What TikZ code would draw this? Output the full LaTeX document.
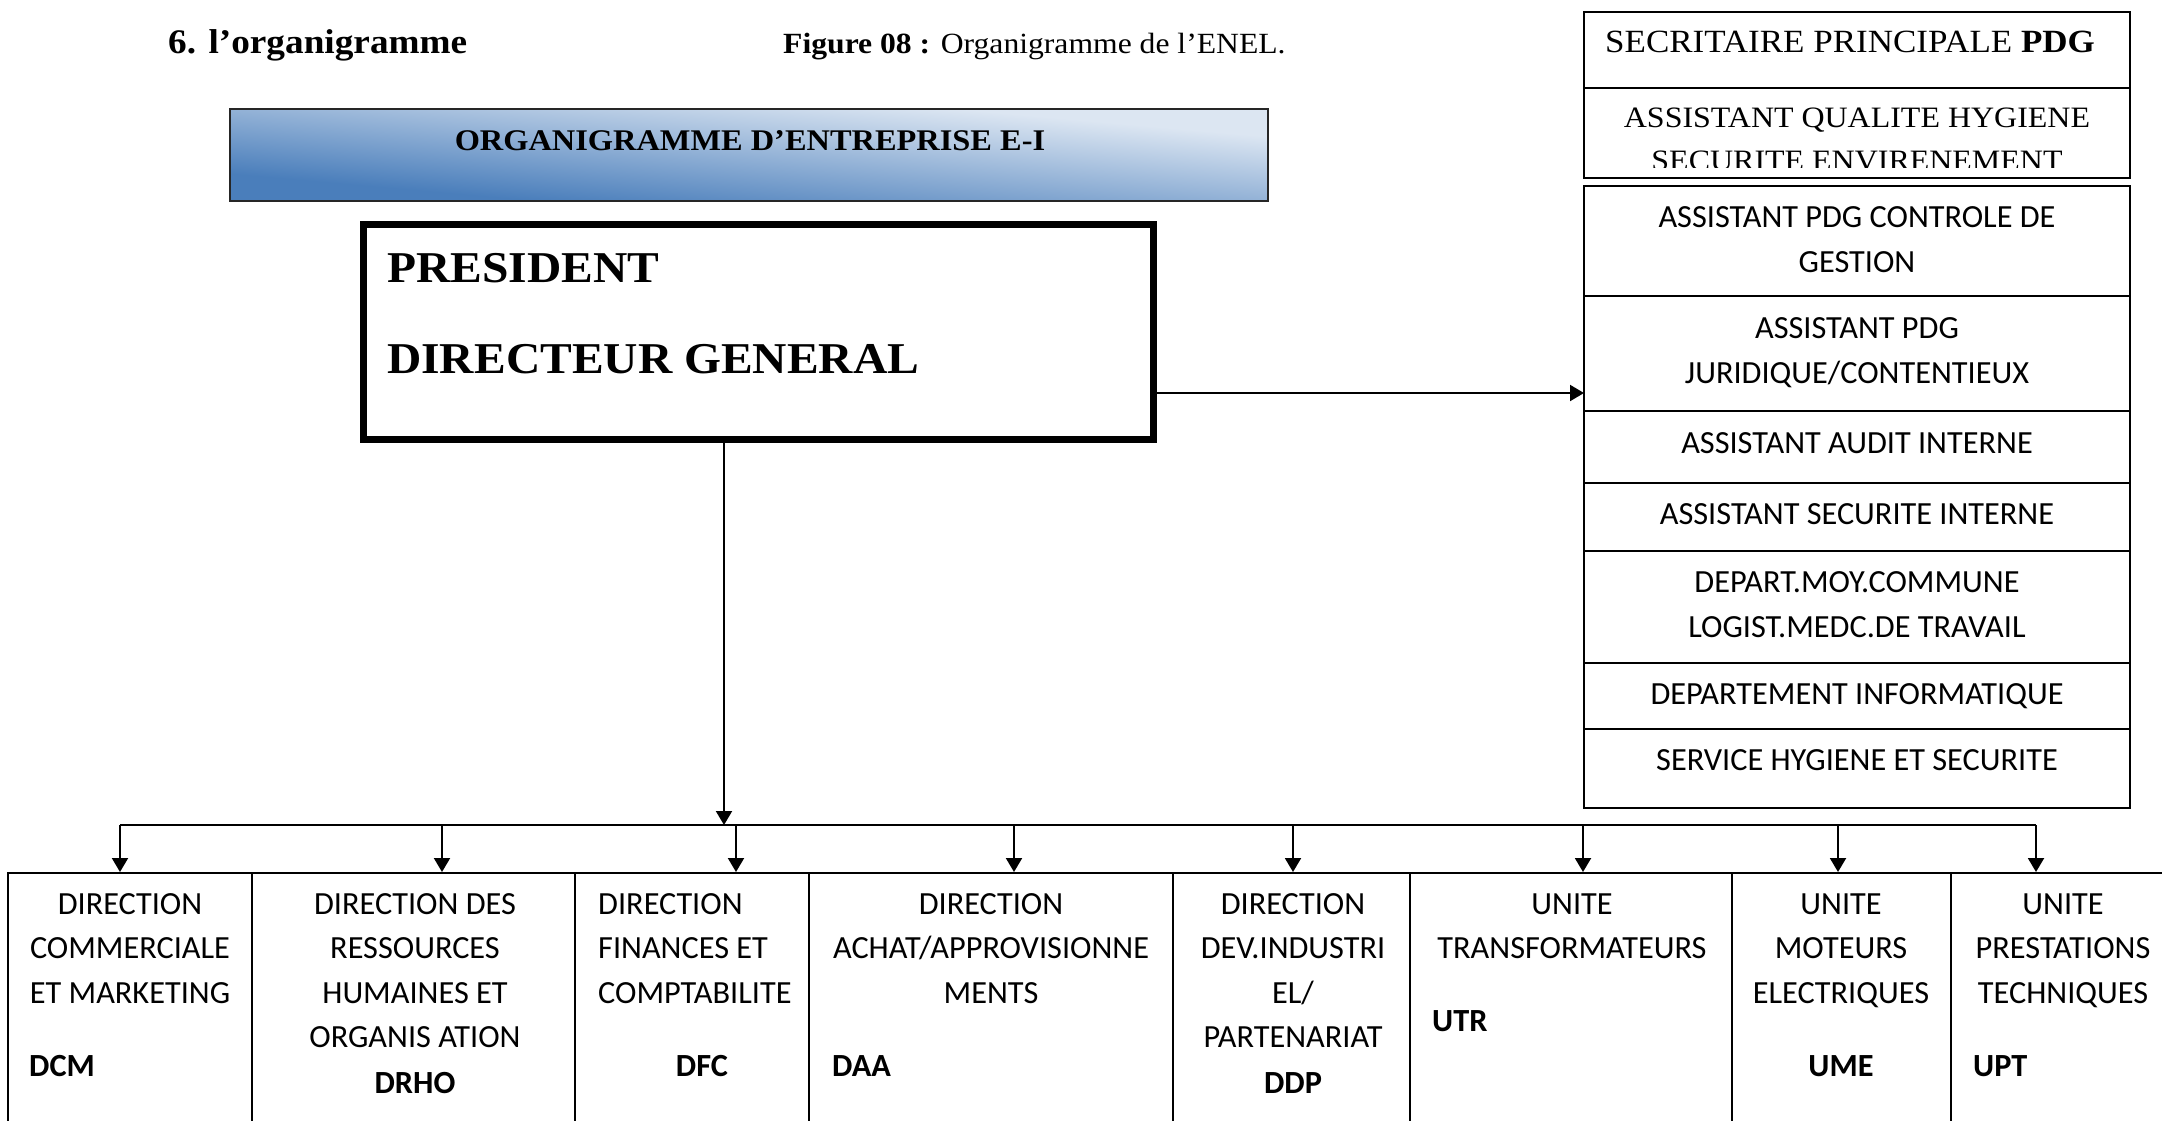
\documentclass[tikz,border=0pt]{standalone}
\usepackage{fontspec}
\setmainfont{Liberation Serif}[FakeStretch=1.08]
\newfontfamily\calfont{Carlito}
\usetikzlibrary{arrows.meta}
\definecolor{blueD}{HTML}{4A7EBB}
\definecolor{blueM}{HTML}{A3BADB}
\definecolor{blueL}{HTML}{DCE6F2}
\begin{document}
\begin{tikzpicture}[x=1pt,y=-1pt,
  rcell/.style={draw, line width=2pt, minimum width=546pt, inner sep=0pt},
  bcell/.style={draw, line width=2pt, minimum height=267pt, inner sep=0pt},
  arr/.style={line width=2pt, -{Triangle[length=14pt,width=16pt]}},
  wire/.style={line width=2pt},
  sans/.style={font=\calfont\fontsize{32.3}{44.5}\selectfont, inner sep=0pt},
  sansb/.style={font=\calfont\bfseries\fontsize{32.3}{44.5}\selectfont, inner sep=0pt},
  ser/.style={font=\fontsize{29.6}{36}\selectfont, inner sep=0pt},
]
\useasboundingbox (0,0) rectangle (2162,1120);
\clip (0,0) rectangle (2162,1120);

% headings
\node[anchor=base west, font=\bfseries\fontsize{34.5}{40}\selectfont, inner sep=0pt] (sec) at (168,53) {6. l’organigramme};
\node[anchor=base west, font=\fontsize{29.3}{35}\selectfont, inner sep=0pt] (fig) at (783,53) {\textbf{Figure 08 :} Organigramme de l’ENEL.};

% banner (diagonal gradient)
\begin{scope}[transform canvas={shift={(230,109)}, xscale=11.2826}]
  \shade[left color=blueD, middle color=blueM, right color=blueL, shading angle=135] (0,0) rectangle (92,92);
\end{scope}
\node[draw=black!85, line width=1.5pt, minimum width=1038pt, minimum height=92pt, inner sep=0pt] (banner) at (749,155) {};
\node[anchor=base, font=\bfseries\fontsize{30}{36}\selectfont, inner sep=0pt] (bannertxt) at (750,150) {ORGANIGRAMME D’ENTREPRISE E-I};

% PDG
\node[draw, line width=7pt, minimum width=790pt, minimum height=215pt, inner sep=0pt] (pdg) at (758,331.5) {};
\node[anchor=base west, font=\bfseries\fontsize{44}{50}\selectfont, inner sep=0pt] (pres) at (387,282) {PRESIDENT};
\node[anchor=base west, font=\bfseries\fontsize{44}{50}\selectfont, inner sep=0pt] (dg) at (387,373) {DIRECTEUR GENERAL};

% right column, first group
\node[rcell, minimum height=76pt] (sp) at (1857,50) {};
\node[rcell, minimum height=90pt] (aq) at (1857,133) {};
\node[anchor=base west, font=\fontsize{32.4}{38}\selectfont, inner sep=0pt] (sptxt) at (1605,52) {SECRITAIRE PRINCIPALE \textbf{PDG}};
\node[ser, anchor=base] (aqtxt1) at (1857,127) {ASSISTANT QUALITE HYGIENE};
\begin{scope}
  \clip (1585,89) rectangle (2129,167);
  \node[ser, anchor=base] (aqtxt2) at (1857,170) {SECURITE ENVIRENEMENT};
\end{scope}

% right column, second group
\node[rcell, minimum height=110pt] (cg) at (1857,241) {};
\node[rcell, minimum height=115pt] (jc) at (1857,353.5) {};
\node[rcell, minimum height=72pt] (ai) at (1857,447) {};
\node[rcell, minimum height=68pt] (si) at (1857,517) {};
\node[rcell, minimum height=112pt] (mc) at (1857,607) {};
\node[rcell, minimum height=66pt] (di) at (1857,696) {};
\node[rcell, minimum height=79pt] (hs) at (1857,768.5) {};

\node[sans, anchor=base] (cgt1) at (1857,227) {ASSISTANT PDG CONTROLE DE};
\node[sans, anchor=base] (cgt2) at (1857,272) {GESTION};
\node[sans, anchor=base] (jct1) at (1857,338) {ASSISTANT PDG};
\node[sans, anchor=base] (jct2) at (1857,383) {JURIDIQUE/CONTENTIEUX};
\node[sans, anchor=base] (ait) at (1857,453) {ASSISTANT AUDIT INTERNE};
\node[sans, anchor=base] (sit) at (1857,524) {ASSISTANT SECURITE INTERNE};
\node[sans, anchor=base] (mct1) at (1857,592) {DEPART.MOY.COMMUNE};
\node[sans, anchor=base] (mct2) at (1857,637) {LOGIST.MEDC.DE TRAVAIL};
\node[sans, anchor=base] (dit) at (1857,704) {DEPARTEMENT INFORMATIQUE};
\node[sans, anchor=base] (hst) at (1857,770) {SERVICE HYGIENE ET SECURITE};

% bottom boxes
\node[bcell, minimum width=244pt] (b1) at (130,1006.5) {};
\node[bcell, minimum width=323pt] (b2) at (413.5,1006.5) {};
\node[bcell, minimum width=234pt] (b3) at (692,1006.5) {};
\node[bcell, minimum width=364pt] (b4) at (991,1006.5) {};
\node[bcell, minimum width=237pt] (b5) at (1291.5,1006.5) {};
\node[bcell, minimum width=322pt] (b6) at (1571,1006.5) {};
\node[bcell, minimum width=219pt] (b7) at (1841.5,1006.5) {};
\node[bcell, minimum width=224pt] (b8) at (2063,1006.5) {};

\foreach \t [count=\i] in {DIRECTION, COMMERCIALE, ET MARKETING}
  \node[sans, anchor=base] (b1t\i) at (130,{914+44.5*(\i-1)}) {\t};
\node[sansb, anchor=base west] (b1c) at (29,1076) {DCM};

\foreach \t [count=\i] in {DIRECTION DES, RESSOURCES, HUMAINES ET, ORGANIS ATION}
  \node[sans, anchor=base] (b2t\i) at (415,{914+44.5*(\i-1)}) {\t};
\node[sansb, anchor=base] (b2c) at (415,1093) {DRHO};

\foreach \t [count=\i] in {DIRECTION, FINANCES ET, COMPTABILITE}
  \node[sans, anchor=base west] (b3t\i) at (598,{914+44.5*(\i-1)}) {\t};
\node[sansb, anchor=base] (b3c) at (702,1076) {DFC};

\foreach \t [count=\i] in {DIRECTION, ACHAT/APPROVISIONNE, MENTS}
  \node[sans, anchor=base] (b4t\i) at (991,{914+44.5*(\i-1)}) {\t};
\node[sansb, anchor=base west] (b4c) at (832,1076) {DAA};

\foreach \t [count=\i] in {DIRECTION, DEV.INDUSTRI, EL/, PARTENARIAT}
  \node[sans, anchor=base] (b5t\i) at (1293,{914+44.5*(\i-1)}) {\t};
\node[sansb, anchor=base] (b5c) at (1293,1093) {DDP};

\foreach \t [count=\i] in {UNITE, TRANSFORMATEURS}
  \node[sans, anchor=base] (b6t\i) at (1572,{914+44.5*(\i-1)}) {\t};
\node[sansb, anchor=base west] (b6c) at (1432,1031) {UTR};

\foreach \t [count=\i] in {UNITE, MOTEURS, ELECTRIQUES}
  \node[sans, anchor=base] (b7t\i) at (1841,{914+44.5*(\i-1)}) {\t};
\node[sansb, anchor=base] (b7c) at (1841,1076) {UME};

\foreach \t [count=\i] in {UNITE, PRESTATIONS, TECHNIQUES}
  \node[sans, anchor=base] (b8t\i) at (2063,{914+44.5*(\i-1)}) {\t};
\node[sansb, anchor=base west] (b8c) at (1973,1076) {UPT};

% connectors
\coordinate (jtip) at (1584,393);
\draw[arr] (pdg.east |- jtip) -- (jtip);

\coordinate (busc) at (724,825);
\coordinate (busL) at (120,825);
\coordinate (busR) at (2036,825);
\draw[wire] (busL) -- (busR);
\draw[arr] (pdg.south -| busc) -- (busc);

\foreach \x/\n in {120/b1, 442/b2, 736/b3, 1014/b4, 1293/b5, 1583/b6, 1838/b7, 2036/b8} {
  \coordinate (d\n) at (\x,825);
  \draw[arr] (d\n) -- (d\n |- \n.north);
}
\end{tikzpicture}
\end{document}
